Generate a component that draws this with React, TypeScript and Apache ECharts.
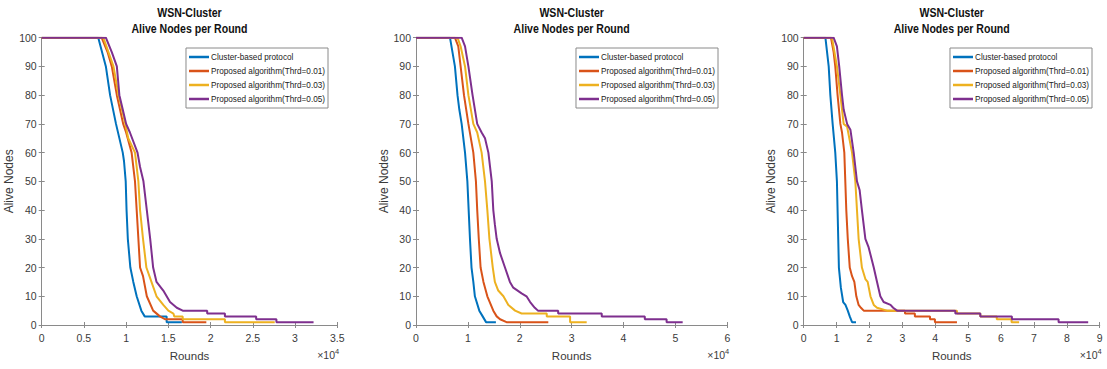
import React, { useEffect, useRef } from "react";
import * as echarts from "echarts";

const seriesNames = [
  "Cluster-based protocol",
  "Proposed algorithm(Thrd=0.01)",
  "Proposed algorithm(Thrd=0.03)",
  "Proposed algorithm(Thrd=0.05)",
];
const colors = ["#0072BD", "#D95319", "#EDB120", "#7E2F8E"];

const yTicks = [0, 10, 20, 30, 40, 50, 60, 70, 80, 90, 100];
const xMax = [35000, 60000, 90000];
const xInterval = [5000, 10000, 10000];

// Panel 1 : [rounds, alive nodes]
const blue1 = [[0,100],[6700,100],[7600,90],[8100,80],[8800,70],[9600,60],[9750,57],[9950,50],[10050,40],[10200,30],[10500,20],[10850,15],[11250,10],[11800,5],[12200,3],[14800,3],[14800,1],[16600,1]];
const red1 = [[0,100],[7100,100],[7800,95],[8300,90],[8900,80],[9650,70],[10000,67],[10650,60],[11050,50],[11250,40],[11450,30],[11650,20],[12000,17],[12450,10],[13200,5],[14000,3],[14600,2],[16700,2],[16700,1],[19500,1]];
const yellow1 = [[0,100],[7300,100],[8500,90],[9100,80],[9900,70],[10250,65],[11050,60],[11450,50],[11650,40],[12000,30],[12400,20],[13000,15],[13600,10],[14400,7],[15000,5],[15600,4],[15700,3],[16700,3],[16700,2],[21700,2],[21700,1],[27600,1]];
const purple1 = [[0,100],[7600,100],[8300,95],[8900,90],[9200,80],[9600,75],[10000,70],[10450,67],[11350,60],[11650,55],[12050,50],[12450,40],[12850,30],[13200,20],[13600,15],[14400,12],[15200,8],[16000,6],[16700,5],[19600,5],[19600,4],[21700,4],[21700,3],[25400,3],[25400,2],[27800,2],[27800,1],[32200,1]];

// Panel 2
const blue2 = [[0,100],[6550,100],[7500,90],[8000,80],[8350,75],[8800,70],[9450,60],[9900,50],[10150,40],[10400,30],[10700,20],[11050,15],[11350,10],[12200,5],[12850,3],[13500,1],[15400,1]];
const red2 = [[0,100],[7500,100],[8150,97],[8600,90],[9250,80],[10100,70],[11050,60],[11550,50],[11800,40],[12100,30],[12450,20],[13000,15],[13750,10],[14900,5],[15550,3],[16200,2],[17450,1],[25500,1]];
const yellow2 = [[0,100],[8000,100],[8600,97],[9450,90],[10100,80],[11050,70],[11800,67],[12650,60],[13300,50],[13750,40],[14150,30],[14800,20],[15200,15],[15850,12],[16850,10],[17800,7],[19100,5],[20350,4],[25200,4],[25200,3],[29700,3],[29700,1],[32900,1]];
const purple2 = [[0,100],[8800,100],[9450,97],[10100,90],[10900,80],[11800,70],[12650,67],[13300,65],[13950,60],[14600,50],[14900,40],[15200,35],[15550,30],[16200,25],[17150,20],[18100,15],[18750,13],[20350,11],[21300,10],[22000,8],[22900,6],[23500,5],[27400,5],[27400,4],[35800,4],[35800,3],[44100,3],[44100,2],[48300,2],[48300,1],[51400,1]];

// Panel 3
const blue3 = [[0,100],[6600,100],[7600,90],[8100,80],[8800,70],[9600,60],[10100,50],[10300,40],[10500,30],[10700,20],[11300,13],[12000,8],[12700,7],[13400,5],[14000,3],[14700,1],[15900,1]];
const red3 = [[0,100],[8300,100],[9100,95],[9600,90],[10300,80],[11150,70],[11650,67],[12350,60],[12650,50],[12950,40],[13400,30],[14000,20],[14700,17],[15400,15],[16000,10],[16700,7],[17400,6],[18250,5],[30800,5],[30800,4],[33800,4],[33800,3],[38400,3],[38400,2],[39900,2],[39900,1],[46600,1]];
const yellow3 = [[0,100],[8600,100],[10100,90],[11150,80],[12150,70],[13200,69],[14700,60],[15700,50],[16200,40],[16700,30],[17700,20],[18750,16],[19450,15],[20300,10],[21300,7],[22300,6],[25300,5],[46600,5],[46600,4],[53700,4],[53700,3],[58700,3],[58700,2],[63200,2],[63200,1],[65500,1]];
const purple3 = [[0,100],[9100,100],[10100,97],[10800,90],[11650,80],[12150,75],[13200,70],[14200,68],[15200,60],[16200,50],[17000,47],[17700,40],[18750,30],[19750,27],[21300,20],[22300,15],[23300,10],[24300,8],[26400,7],[27200,6],[28400,5],[46100,5],[46100,4],[53700,4],[53700,3],[63300,3],[63300,2],[77500,2],[77500,1],[86500,1]];

const panelData = [
  [blue1, red1, yellow1, purple1],
  [blue2, red2, yellow2, purple2],
  [blue3, red3, yellow3, purple3],
];

const titleLine1 = "WSN-Cluster";
const titleLine2 = "Alive Nodes per Round";
const xName = "Rounds";
const yName = "Alive Nodes";

// layout (pixels)
const grids = [
  { left: 41.7, top: 37.7, width: 295.5, height: 287.3 },
  { left: 416, top: 37.7, width: 311.3, height: 287.3 },
  { left: 803.7, top: 37.7, width: 296, height: 287.3 },
];
const legendPos = [
  { right: 779, top: 48 },
  { right: 389, top: 48 },
  { right: 15, top: 48 },
];

const FONT = "'Liberation Sans', Arial, Helvetica, sans-serif";
const AXIS_GRAY = "#8a8a8a";
const LABEL_COLOR = "#3a3a3a";

export default function App() {
  const ref = useRef<HTMLDivElement>(null);
  useEffect(() => {
    if (!ref.current) return;
    const chart = echarts.init(ref.current, undefined, { renderer: "svg" });

    const gridOpt: any[] = [];
    const xAxes: any[] = [];
    const yAxes: any[] = [];
    const series: any[] = [];
    const legends: any[] = [];
    const graphics: any[] = [];

    grids.forEach((g, i) => {
      gridOpt.push({ ...g, containLabel: false, outerBoundsMode: "none" });
      const axisLine = { show: true, lineStyle: { color: AXIS_GRAY, width: 1 } };
      const tick = { show: true, inside: true, length: 3, lineStyle: { color: AXIS_GRAY } };
      xAxes.push({
        type: "value",
        gridIndex: i,
        min: 0,
        max: xMax[i],
        interval: xInterval[i],
        position: "bottom",
        axisLine,
        axisTick: tick,
        splitLine: { show: false },
        axisLabel: {
          color: LABEL_COLOR,
          fontSize: 10.5,
          fontFamily: FONT,
          margin: 7,
          formatter: (v: number) => String(v / 10000),
        },
        name: xName,
        nameLocation: "middle",
        nameGap: 25,
        nameTextStyle: { color: LABEL_COLOR, fontSize: 11.5, fontFamily: FONT },
      });
      xAxes.push({
        type: "value",
        gridIndex: i,
        min: 0,
        max: xMax[i],
        interval: xInterval[i],
        position: "top",
        axisLine,
        axisTick: tick,
        splitLine: { show: false },
        axisLabel: { show: false },
      });
      yAxes.push({
        type: "value",
        gridIndex: i,
        min: yTicks[0],
        max: yTicks[yTicks.length - 1],
        interval: 10,
        position: "left",
        axisLine,
        axisTick: tick,
        splitLine: { show: false },
        axisLabel: { color: LABEL_COLOR, fontSize: 10.5, fontFamily: FONT, margin: 5 },
        name: yName,
        nameLocation: "middle",
        nameGap: 17,
        nameTextStyle: { color: LABEL_COLOR, fontSize: 12, fontFamily: FONT },
      });
      yAxes.push({
        type: "value",
        gridIndex: i,
        min: 0,
        max: 100,
        interval: 10,
        position: "right",
        axisLine,
        axisTick: tick,
        splitLine: { show: false },
        axisLabel: { show: false },
      });

      panelData[i].forEach((d, k) => {
        series.push({
          type: "line",
          name: seriesNames[k],
          xAxisIndex: 2 * i,
          yAxisIndex: 2 * i,
          data: d,
          showSymbol: false,
          symbol: "none",
          lineStyle: { color: colors[k], width: 2 },
          itemStyle: { color: colors[k] },
          z: 2 + k,
          silent: true,
        });
      });

      legends.push({
        ...legendPos[i],
        orient: "vertical",
        data: seriesNames,
        icon: "rect",
        itemWidth: 20,
        itemHeight: 2.5,
        itemGap: 2,
        padding: [3, 3, 3, 3],
        borderColor: "#8a8a8a",
        borderWidth: 1,
        backgroundColor: "#ffffff",
        textStyle: { color: "#222", fontSize: 8.2, fontFamily: FONT, lineHeight: 12, padding: [0, 0, 0, -3] },
        selectedMode: false,
      });

      const cx = g.left + g.width / 2;
      [titleLine1, titleLine2].forEach((t, j) => {
        graphics.push({
          type: "text",
          x: cx,
          y: j === 0 ? 13 : 29,
          scaleX: 0.88,
          style: {
            text: t,
            textAlign: "center",
            textVerticalAlign: "middle",
            fontSize: 12,
            fontWeight: "bold",
            fontFamily: FONT,
            fill: "#111",
          },
        });
      });
      graphics.push({
        type: "text",
        x: g.left + g.width - 20,
        y: 362,
        style: {
          text: "×10{s|4}",
          textAlign: "left",
          textVerticalAlign: "bottom",
          fontSize: 10.5,
          fontFamily: FONT,
          fill: LABEL_COLOR,
          rich: { s: { fontSize: 7.5, fontFamily: FONT, fill: LABEL_COLOR, padding: [0, 0, 7, 0] } },
        },
      });
    });

    chart.setOption({
      animation: false,
      backgroundColor: "#ffffff",
      grid: gridOpt,
      xAxis: xAxes,
      yAxis: yAxes,
      legend: legends,
      series,
      graphic: graphics,
    });
    return () => chart.dispose();
  }, []);
  return (
    <div
      ref={ref}
      style={{ position: "absolute", left: 0, top: 0, width: 1107, height: 369 }}
    />
  );
}
